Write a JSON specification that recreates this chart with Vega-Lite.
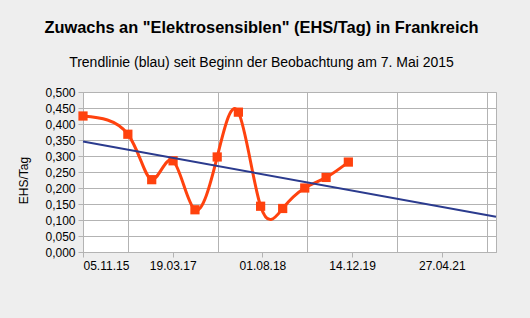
{
  "$schema": "https://vega.github.io/schema/vega-lite/v6.json",
  "width": 413,
  "height": 160,
  "autosize": "none",
  "padding": {"left": 83, "top": 92, "right": 34, "bottom": 66},
  "background": "#eeeeee",
  "config": {
    "view": {"stroke": "#b3b3b3", "fill": "white", "strokeWidth": 1},
    "font": "Liberation Sans"
  },
  "title": {
    "text": "Zuwachs an \"Elektrosensiblen\" (EHS/Tag) in Frankreich",
    "subtitle": "Trendlinie (blau) seit Beginn der Beobachtung am 7. Mai 2015",
    "anchor": "middle",
    "font": "Liberation Sans",
    "subtitleFont": "Liberation Sans",
    "fontSize": 16.4,
    "fontWeight": "bold",
    "subtitleFontSize": 14,
    "color": "black",
    "subtitleColor": "black",
    "subtitlePadding": 20,
    "offset": 16,
    "dx": -28
  },
  "datasets": {
    "series": [
      {"date": "2015-11-05", "v": 0.425},
      {"date": "2016-07-12", "v": 0.368},
      {"date": "2016-11-22", "v": 0.226},
      {"date": "2017-03-21", "v": 0.285},
      {"date": "2017-07-21", "v": 0.132},
      {"date": "2017-11-22", "v": 0.297},
      {"date": "2018-03-20", "v": 0.437},
      {"date": "2018-07-22", "v": 0.143},
      {"date": "2018-11-22", "v": 0.136},
      {"date": "2019-03-25", "v": 0.200},
      {"date": "2019-07-22", "v": 0.233},
      {"date": "2019-11-23", "v": 0.281}
    ],
    "trend": [
      {"date": "2015-11-05", "v": 0.345},
      {"date": "2022-02-23", "v": 0.110}
    ]
  },
  "resolve": {"axis": {"x": "independent"}},
  "encoding": {
    "y": {
      "field": "v",
      "type": "quantitative",
      "scale": {"domain": [0, 0.5], "nice": false, "zero": true},
      "axis": {
        "title": "EHS/Tag",
        "values": [0, 0.05, 0.1, 0.15, 0.2, 0.25, 0.3, 0.35, 0.4, 0.45, 0.5],
        "labelExpr": "replace(format(datum.value, '.3f'), '.', ',')",
        "labelFontSize": 12,
        "labelColor": "black",
        "labelPadding": 3,
        "tickSize": 5,
        "tickColor": "#b3b3b3",
        "domainColor": "#b3b3b3",
        "gridColor": "#b3b3b3",
        "titleFontSize": 12,
        "titleFontWeight": "normal",
        "titleColor": "black",
        "titleAngle": -90,
        "titleBaseline": "middle",
        "titleAlign": "center",
        "titleX": -60,
        "titleY": 88
      }
    }
  },
  "layer": [
    {
      "data": {"name": "series"},
      "mark": {"type": "line", "interpolate": "natural", "color": "#ff420e", "strokeWidth": 3},
      "encoding": {
        "x": {
          "field": "date",
          "type": "temporal",
          "scale": {
            "type": "utc",
            "domain": [
              {"year": 2015, "month": 11, "date": 5, "utc": true},
              {"year": 2022, "month": 2, "date": 23, "utc": true}
            ]
          },
          "axis": {
            "orient": "bottom",
            "title": null,
            "values": [
              {"year": 2015, "month": 11, "date": 5, "utc": true},
              {"year": 2017, "month": 3, "date": 19, "utc": true},
              {"year": 2018, "month": 8, "date": 1, "utc": true},
              {"year": 2019, "month": 12, "date": 14, "utc": true},
              {"year": 2021, "month": 4, "date": 27, "utc": true}
            ],
            "labelExpr": "utcFormat(datum.value, '%d.%m.%y')",
            "grid": false,
            "labelFontSize": 12,
            "labelColor": "black",
            "labelPadding": 3,
            "tickSize": 5,
            "tickColor": "#b3b3b3",
            "domainColor": "#b3b3b3"
          }
        }
      }
    },
    {
      "data": {"name": "series"},
      "mark": {"type": "point", "shape": "square", "filled": true, "opacity": 1, "size": 85, "color": "#ff420e"},
      "encoding": {"x": {"field": "date", "type": "temporal", "axis": null}}
    },
    {
      "data": {"name": "trend"},
      "mark": {"type": "line", "color": "#2b3b8e", "strokeWidth": 2},
      "encoding": {
        "x": {
          "field": "date",
          "type": "temporal",
          "axis": {
            "orient": "top",
            "title": null,
            "values": [
              {"year": 2016, "month": 7, "date": 12, "utc": true},
              {"year": 2017, "month": 11, "date": 24, "utc": true},
              {"year": 2019, "month": 4, "date": 8, "utc": true},
              {"year": 2020, "month": 8, "date": 20, "utc": true},
              {"year": 2022, "month": 1, "date": 2, "utc": true}
            ],
            "grid": true,
            "gridColor": "#b3b3b3",
            "labels": false,
            "ticks": false,
            "domain": false
          }
        }
      }
    }
  ]
}
